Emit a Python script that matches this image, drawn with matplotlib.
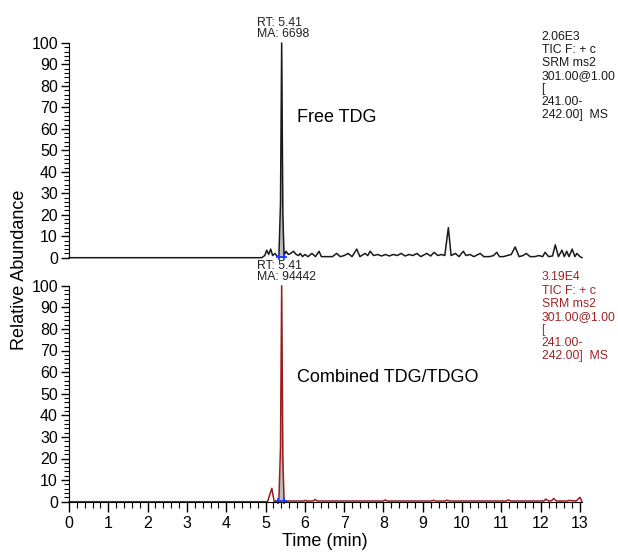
import numpy as np
import matplotlib
matplotlib.use('Agg')
import matplotlib.pyplot as plt
from matplotlib.ticker import MultipleLocator

plt.rcParams['font.family'] = ['Liberation Sans', 'DejaVu Sans']

# Free TDG trace (time in min, relative abundance)
t_free = [0.0, 4.90, 4.98, 5.03, 5.08, 5.13, 5.18, 5.24, 5.30, 5.34, 5.38, 5.41, 5.44, 5.47,
          5.52, 5.58, 5.64, 5.71, 5.78, 5.84, 5.88, 5.94, 6.00, 6.08, 6.18, 6.27, 6.36, 6.42,
          6.55, 6.70, 6.81, 6.90, 7.00, 7.10, 7.20, 7.32, 7.40, 7.53, 7.60, 7.66, 7.75, 7.85,
          7.95, 8.05, 8.15, 8.25, 8.35, 8.45, 8.55, 8.65, 8.75, 8.85, 8.95, 9.10, 9.20, 9.29,
          9.38, 9.48, 9.56, 9.65, 9.72, 9.83, 9.92, 10.03, 10.10, 10.20, 10.30, 10.46, 10.55,
          10.70, 10.80, 10.88, 10.95, 11.05, 11.15, 11.25, 11.35, 11.45, 11.55, 11.63, 11.73,
          11.85, 11.95, 12.05, 12.11, 12.20, 12.30, 12.37, 12.45, 12.54, 12.60, 12.66, 12.72,
          12.80, 12.87, 12.92, 13.00, 13.05]
y_free = [0.0, 0.0, 1.0, 3.5, 1.5, 4.0, 1.0, 2.0, 0.5, 1.0, 25.0, 100.0, 20.0, 1.0,
          3.0, 1.5, 2.0, 3.0, 1.5, 1.0, 2.0, 0.5, 1.5, 0.5, 2.0, 0.5, 3.0, 0.5,
          0.5, 0.5, 2.0, 0.5, 1.0, 2.0, 0.5, 4.0, 0.5, 2.0, 1.0, 3.0, 1.0, 1.5,
          0.8, 1.5, 0.8, 1.5, 1.0, 2.0, 0.8, 1.5, 1.0, 2.0, 0.5, 2.0, 0.8, 2.5,
          1.0, 1.5, 1.0, 14.0, 1.0, 2.0, 0.5, 3.0, 1.0, 1.5, 0.5, 2.0, 0.5,
          0.5, 1.0, 2.5, 0.5, 0.5, 1.0, 1.5, 5.0, 0.5, 1.0, 2.0, 0.5,
          0.5, 1.0, 0.5, 2.5, 0.5, 0.8, 6.0, 0.5, 3.5, 0.5, 3.0, 0.5,
          4.0, 0.5, 2.0, 0.5, 0.0]

# Combined TDG/TDGO trace
t_comb = [0.0, 5.05, 5.16, 5.22, 5.30, 5.34, 5.38, 5.41, 5.44, 5.47, 5.55, 5.96, 6.00, 6.04,
          6.21, 6.26, 6.32, 8.00, 8.04, 8.10, 9.22, 9.27, 9.32, 9.57, 9.62, 9.68, 11.12,
          11.17, 11.25, 12.08, 12.13, 12.20, 12.28, 12.33, 12.40, 12.67, 12.72, 12.90,
          13.00, 13.05]
y_comb = [0.0, 0.0, 6.2, 0.0, 0.0, 1.0, 25.0, 100.0, 20.0, 0.5, 0.3, 0.3, 0.6, 0.3,
          0.3, 1.0, 0.3, 0.3, 0.8, 0.3, 0.3, 0.7, 0.3, 0.3, 0.7, 0.3, 0.3,
          0.8, 0.3, 0.3, 1.2, 0.3, 0.5, 1.5, 0.3, 0.3, 0.6, 0.3,
          2.0, 0.0]

# integration limits of the labelled peak
peak_free = (5.33, 5.48)
peak_comb = (5.31, 5.47)

labels = ['Free TDG', 'Combined TDG/TDGO']
label_y = [65.5, 57.7]
peak_text = ['RT: 5.41\nMA: 6698', 'RT: 5.41\nMA: 94442']
info_text = ['2.06E3\nTIC F: + c\nSRM ms2\n301.00@1.00\n[\n241.00-\n242.00]  MS',
             '3.19E4\nTIC F: + c\nSRM ms2\n301.00@1.00\n[\n241.00-\n242.00]  MS']
info_y = [105.8, 106.6]
colors = ['#1a1a1a', '#9b1b1b']
info_colors = ['#1a1a1a', '#9e2424']

W, H = 618, 552
fig = plt.figure(figsize=(W / 100, H / 100), dpi=100)

x0 = 69 / W
xw = 513 / W
ax1 = fig.add_axes([x0, 1 - 257.7 / H, xw, 214.7 / H])
ax2 = fig.add_axes([x0, 1 - 501.7 / H, xw, 216 / H])

traces = [(t_free, y_free, peak_free), (t_comb, y_comb, peak_comb)]
for i, ax in enumerate([ax1, ax2]):
    t, y, pk = traces[i]
    t = np.array(t)
    y = np.array(y)
    m = (t >= pk[0]) & (t <= pk[1])
    ax.fill_between(t[m], y[m], color='#bdbdbd', lw=0, clip_on=False)
    ax.plot(t, y, color=colors[i], lw=1.1, clip_on=False)
    ax.plot(pk, [0.5, 0.5], '+', color='#1f3bff', ms=5, mew=1.3, clip_on=False)

    ax.set_xlim(0, 13.05)
    ax.set_ylim(0, 100)
    ax.yaxis.set_major_locator(MultipleLocator(10))
    ax.yaxis.set_minor_locator(MultipleLocator(2))
    ax.xaxis.set_major_locator(MultipleLocator(1))
    ax.xaxis.set_minor_locator(MultipleLocator(0.2))
    for s in ['top', 'right']:
        ax.spines[s].set_visible(False)
    ax.tick_params(axis='y', which='major', length=6, width=1, labelsize=11.5, pad=2)
    ax.tick_params(axis='y', which='minor', length=3.5, width=0.8)
    ax.tick_params(axis='x', which='major', length=7, width=1, labelsize=11.5, pad=3)
    ax.tick_params(axis='x', which='minor', length=4, width=0.8)

    ax.text(4.78, 101.2, peak_text[i], fontsize=8.8, linespacing=0.95,
            ha='left', va='bottom', color='#222222', clip_on=False)
    ax.text(5.8, label_y[i], labels[i], fontsize=13, ha='left', va='center')
    ax.text(12.02, info_y[i], info_text[i], fontsize=8.8, linespacing=1.12,
            ha='left', va='top', color=info_colors[i], clip_on=False)

ax1.spines['bottom'].set_visible(False)
ax1.tick_params(axis='x', which='both', bottom=False, labelbottom=False)

fig.text(20 / W, 1 - 270 / H, 'Relative Abundance', rotation=90,
         fontsize=13, ha='center', va='center')
fig.text(325 / W, 1 - 541 / H, 'Time (min)', fontsize=13, ha='center', va='center')

fig.savefig('out.png', dpi=100)
